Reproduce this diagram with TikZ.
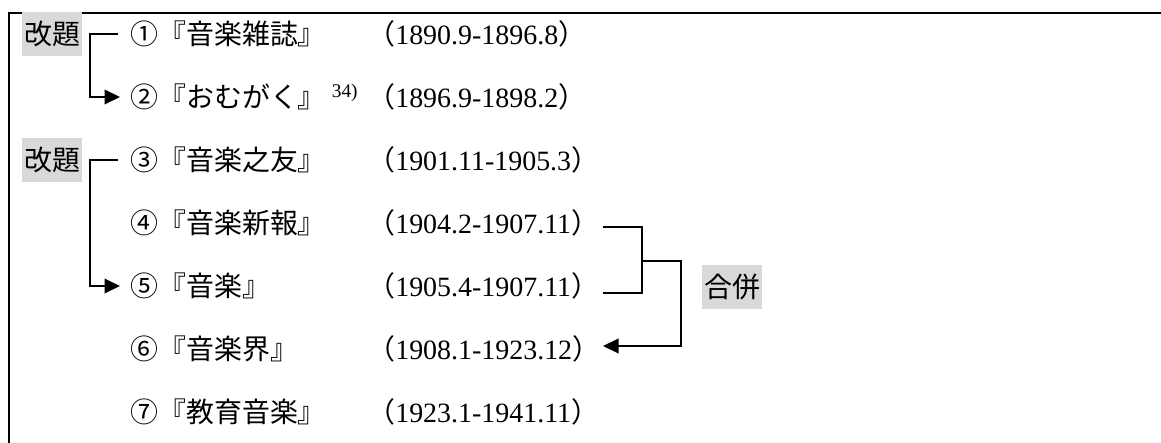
\documentclass[tikz,border=0pt]{standalone}
\usepackage{fontspec}
\setmainfont{Liberation Serif}
\newfontfamily\cjk{Noto Sans CJK JP}
\usetikzlibrary{positioning}
\usetikzlibrary{arrows.meta}
\definecolor{tagGray}{gray}{0.85}
\newcommand{\bodysize}{\fontsize{15.9}{19}\selectfont}
\tikzstyle{tagLabel} = [fill=tagGray, inner xsep=1pt, inner ysep=5pt, font=\cjk\bodysize]
\tikzstyle{title} = [anchor=west, inner sep=0pt, font=\cjk\bodysize]
\tikzstyle{period} = [anchor=west, inner sep=0pt, font=\bodysize]
\tikzstyle{link} = [line width=1.1pt]
\tikzstyle{linkArrow} = [link, -{Triangle[length=0.31cm, width=0.29cm]}]
\tikzstyle{frame} = [line width=1.6pt]

\begin{document}
\begin{tikzpicture}[x=0.02cm, y=-0.02cm]
    \useasboundingbox (0,0) rectangle (1161,443);
    \draw [frame] (1161,13) -| (9,443);

    % journals
    \node (t1) at (130,34) [title] {①『音楽雑誌』};
    \node (t2) at (130,97) [title] {②『おむがく』};
    \node (t3) at (130,160) [title] {③『音楽之友』};
    \node (t4) at (130,223) [title] {④『音楽新報』};
    \node (t5) at (130,286) [title] {⑤『音楽』};
    \node (t6) at (130,349) [title] {⑥『音楽界』};
    \node (t7) at (130,412) [title] {⑦『教育音楽』};
    \node (note) [right=3pt of t2.north east, anchor=north west, inner sep=0pt,
        font=\fontsize{11}{11}\selectfont] {34)};

    % periods
    \node (d1) at (367,34) [period] {{\cjk （}1890.9-1896.8{\cjk ）}};
    \node (d2) at (367,97) [period] {{\cjk （}1896.9-1898.2{\cjk ）}};
    \node (d3) at (367,160) [period] {{\cjk （}1901.11-1905.3{\cjk ）}};
    \node (d4) at (367,223) [period] {{\cjk （}1904.2-1907.11{\cjk ）}};
    \node (d5) at (367,286) [period] {{\cjk （}1905.4-1907.11{\cjk ）}};
    \node (d6) at (367,349) [period] {{\cjk （}1908.1-1923.12{\cjk ）}};
    \node (d7) at (367,412) [period] {{\cjk （}1923.1-1941.11{\cjk ）}};

    % renamed
    \node (rn1) at (52,34) [tagLabel] {改題};
    \node (rn2) at (52,160) [tagLabel] {改題};
    \coordinate (r1) at (118,34);
    \coordinate (r3) at (118,160);
    \draw [linkArrow, shorten >=0.2cm] (r1) -- ++(-28,0) |- (t2.west);
    \draw [linkArrow, shorten >=0.2cm] (r3) -- ++(-28,0) |- (t5.west);

    % merged
    \node (mg) at (732,287) [tagLabel] {合併};
    \coordinate (m4) at (603,227);
    \coordinate (m5) at (603,293);
    \coordinate (mj) at (642,261);
    \coordinate (m6) at (603,346);
    \draw [link] (m4) -| (mj) |- (m5);
    \draw [linkArrow] (mj) -- ++(39,0) |- (m6);
\end{tikzpicture}
\end{document}
